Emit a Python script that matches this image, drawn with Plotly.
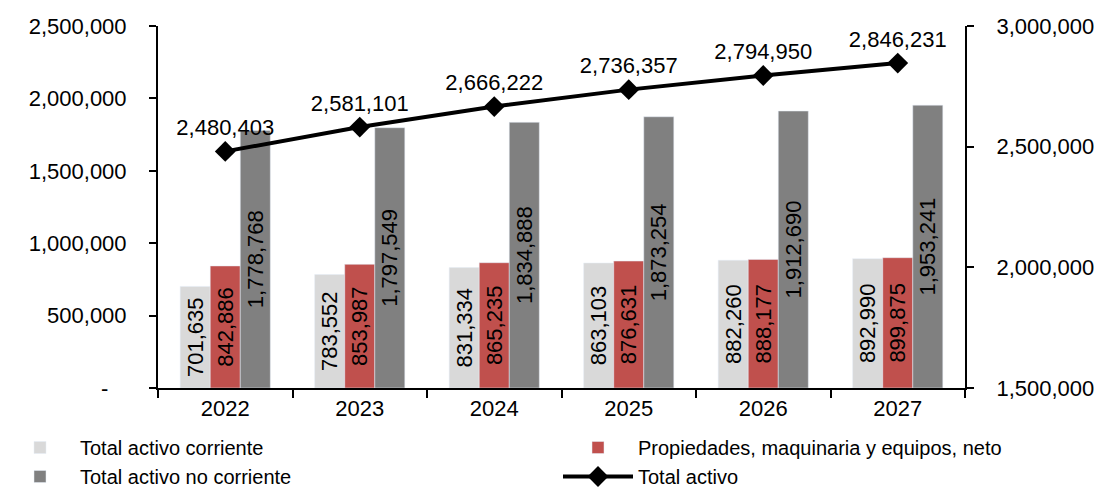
import plotly.graph_objects as go

years = ["2022", "2023", "2024", "2025", "2026", "2027"]
activo_corriente = [701635, 783552, 831334, 863103, 882260, 892990]
propiedades = [842886, 853987, 865235, 876631, 888177, 899875]
activo_no_corriente = [1778768, 1797549, 1834888, 1873254, 1912690, 1953241]
total_activo = [2480403, 2581101, 2666222, 2736357, 2794950, 2846231]

left_ticks = [0, 500000, 1000000, 1500000, 2000000, 2500000]
left_ticktext = ["-\u00a0\u00a0\u00a0", "500,000", "1,000,000", "1,500,000", "2,000,000", "2,500,000"]
right_ticks = [1500000, 2000000, 2500000, 3000000]

FONT = "Liberation Sans, Arial, sans-serif"
FS = 22
LFS = 20

fig = go.Figure()

bar_common = dict(
    textposition="inside",
    insidetextanchor="middle",
    textangle=-90,
    constraintext="none",
    texttemplate="%{y:,.0f}",
    textfont=dict(family=FONT, size=FS, color="black"),
    cliponaxis=False,
)

fig.add_trace(go.Bar(x=years, y=activo_corriente, name="Total activo corriente",
                     marker=dict(color="#D9D9D9"), legend="legend", **bar_common))
fig.add_trace(go.Bar(x=years, y=propiedades, name="Propiedades, maquinaria y equipos, neto",
                     marker=dict(color="#C0504D"), legend="legend2", **bar_common))
fig.add_trace(go.Bar(x=years, y=activo_no_corriente, name="Total activo no corriente",
                     marker=dict(color="#808080"), legend="legend", **bar_common))
fig.add_trace(go.Scatter(x=years, y=total_activo, name="Total activo", yaxis="y2",
                         mode="lines+markers+text", legend="legend2",
                         line=dict(color="black", width=4),
                         marker=dict(symbol="diamond", size=16, color="black"),
                         texttemplate="%{y:,.0f}", textposition="top center",
                         textfont=dict(family=FONT, size=FS, color="black"),
                         cliponaxis=False))

legend_common = dict(orientation="v", yref="paper", y=-0.1105, yanchor="top",
                     xanchor="left", itemwidth=70, tracegroupgap=0,
                     traceorder="normal",
                     font=dict(family=FONT, size=LFS, color="black"))

fig.update_layout(
    width=1119, height=490,
    margin=dict(l=158, r=154, t=26, b=102, autoexpand=False),
    paper_bgcolor="white", plot_bgcolor="white",
    font=dict(family=FONT, size=FS, color="black"),
    barmode="group", bargap=0.33, bargroupgap=0,
    showlegend=True,
    legend=dict(xref="container", x=0.0, **legend_common),
    legend2=dict(xref="container", x=558 / 1119, **legend_common),
    xaxis=dict(type="category", showline=True, linecolor="black", linewidth=2,
               ticks="outside", tickson="boundaries", ticklen=8, tickwidth=2,
               tickcolor="black", showgrid=False,
               tickfont=dict(family=FONT, size=FS)),
    yaxis=dict(range=[0, 2500000], tickvals=left_ticks, ticktext=left_ticktext,
               showline=True, linecolor="black", linewidth=2, ticks="outside",
               ticklen=7, tickwidth=2, tickcolor="black", showgrid=False,
               zeroline=False, ticklabelstandoff=18,
               tickfont=dict(family=FONT, size=FS)),
    yaxis2=dict(range=[1500000, 3000000], tickvals=right_ticks, tickformat=",.0f",
                overlaying="y", side="right",
                showline=True, linecolor="black", linewidth=2, ticks="outside",
                ticklen=7, tickwidth=2, tickcolor="black", showgrid=False,
                zeroline=False, ticklabelstandoff=18,
                tickfont=dict(family=FONT, size=FS)),
)

fig.write_html("out.html")
